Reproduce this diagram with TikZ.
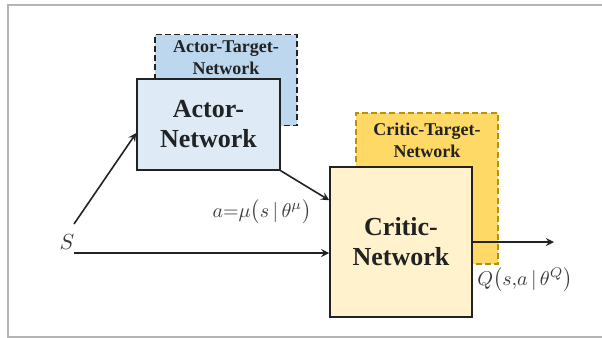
\documentclass[tikz,border=0pt]{standalone}
\usepackage{fontspec}
\setmainfont{Liberation Serif}
\usetikzlibrary{arrows,calc}
\definecolor{framegray}{HTML}{B4B4B4}
\definecolor{boxline}{HTML}{222222}
\definecolor{actortgtfill}{HTML}{BDD7EE}
\definecolor{actorfill}{HTML}{DEEBF7}
\definecolor{critictgtfill}{HTML}{FFD966}
\definecolor{critictgtline}{HTML}{BF9000}
\definecolor{criticfill}{HTML}{FFF2CC}
\definecolor{labelgray}{HTML}{3C3C3C}
\tikzstyle{netbox} = [rectangle, draw = boxline, line width = 0.75pt, minimum width = 71.5pt, align = center, text = boxline, font = \fontsize{13}{15}\selectfont\bfseries]
\tikzstyle{tgtbox} = [rectangle, line width = 0.75pt, dash pattern = on 3pt off 1.6pt, minimum width = 71pt]
\tikzstyle{tgttext} = [anchor = north, inner sep = 0pt, align = center, text = boxline, font = \fontsize{9}{11}\selectfont\bfseries]
\tikzstyle{mathlabel} = [text = labelgray, font = \fontsize{10}{12}\selectfont]
\tikzstyle{arrow} = [line width = 0.8pt, ->, >=stealth, draw = boxline]

\begin{document}
\begin{tikzpicture}[x = 0.5pt, y = -0.5pt]
\useasboundingbox (0,0) rectangle (602,338);
\draw [framegray, line width = 0.8pt] (606,5) -- (8,5) -- (8,337) -- (606,337);

\node(actortgt) [tgtbox, draw = boxline, fill = actortgtfill, minimum height = 45.5pt] at (226,80) {};
\node(actortgttext) [tgttext, yshift = -3pt] at (actortgt.north) {Actor-Target-\\Network};
\node(actor) [netbox, fill = actorfill, minimum height = 45.5pt] at (208.5,124.5) {Actor-\\Network};

\node(critictgt) [tgtbox, draw = critictgtline, fill = critictgtfill, minimum height = 75.5pt] at (427,188.5) {};
\node(critictgttext) [tgttext, yshift = -5pt] at (critictgt.north) {Critic-Target-\\Network};
\node(critic) [netbox, fill = criticfill, minimum width = 71pt, minimum height = 75pt] at (401,242) {Critic-\\Network};

\node(S) [mathlabel, font = \fontsize{11}{13}\selectfont] at (67,242) {$S$};
\node(alabel) [mathlabel] at (262,212) {$a{=}\mu\bigl(s\,|\,\theta^{\mu}\bigr)$};
\node(qlabel) [mathlabel] at (525,280) {$Q\bigl(s,\!a\,|\,\theta^{Q}\bigr)$};

\coordinate (sup) at (74,224);
\coordinate (slow) at (74,253);
\coordinate (qout) at (554,242);

\draw [arrow] (sup) -- ($(actor.west)+(0,8.5)$);
\draw [arrow] (slow) -- (slow -| critic.west);
\draw [arrow] (actor.south east) -- ($(critic.north west)+(0,34)$);
\draw [arrow] (critic.east) -- (qout);

\end{tikzpicture}
\end{document}
